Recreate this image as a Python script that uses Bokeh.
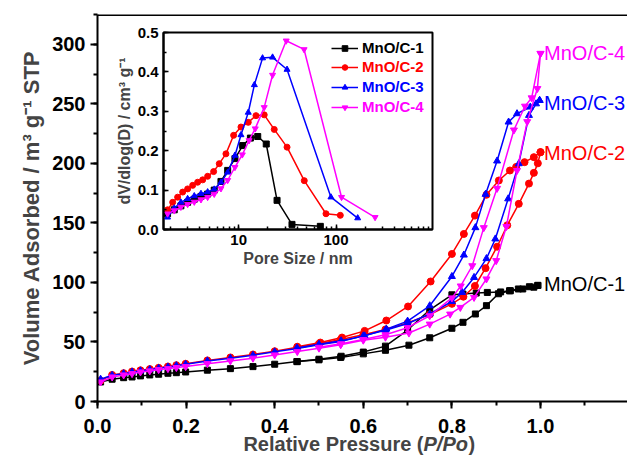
from bokeh.plotting import figure
from bokeh.models import (Range1d, Label, Legend, LegendItem, Span, SingleIntervalTicker,
                          LogTicker, NumeralTickFormatter)
from bokeh.embed import file_html
from bokeh.resources import INLINE

# ---------------- main isotherm data ----------------
names = ["MnO/C-1", "MnO/C-2", "MnO/C-3", "MnO/C-4"]
colors = ["#000000", "#FF0000", "#0000FF", "#FF00FF"]
markers = ["square", "circle", "triangle", "inverted_triangle"]

p1_ads = [0.007, 0.033, 0.059, 0.078, 0.097, 0.118, 0.138, 0.159, 0.178, 0.199, 0.248, 0.300, 0.351, 0.400, 0.451, 0.500, 0.549, 0.600, 0.650, 0.703, 0.750, 0.800, 0.825, 0.853, 0.878, 0.905, 0.932, 0.960, 0.985, 0.994]
v1_ads = [16.4, 18.7, 20.0, 20.6, 21.5, 22.3, 22.9, 23.7, 24.2, 24.8, 26.3, 27.6, 29.3, 31.3, 33.5, 35.0, 37.0, 40.0, 43.0, 47.3, 53.5, 61.5, 66.5, 73.5, 80.5, 90.5, 93.0, 94.5, 96.0, 97.5]
p1_des = [0.994, 0.975, 0.950, 0.930, 0.910, 0.880, 0.855, 0.825, 0.800, 0.750, 0.700, 0.650, 0.600, 0.550, 0.500, 0.450]
v1_des = [97.5, 96.4, 94.5, 93.0, 92.0, 91.6, 91.1, 90.2, 89.6, 77.0, 60.0, 46.5, 41.5, 38.0, 35.5, 33.5]

p2_ads = [0.007, 0.033, 0.059, 0.078, 0.097, 0.118, 0.138, 0.159, 0.178, 0.199, 0.248, 0.300, 0.351, 0.400, 0.451, 0.500, 0.549, 0.600, 0.650, 0.700, 0.750, 0.800, 0.826, 0.852, 0.876, 0.902, 0.925, 0.951, 0.974, 0.985, 0.994, 1.000]
v2_ads = [17.5, 22.3, 23.8, 25.2, 26.2, 27.2, 28.3, 29.4, 30.5, 31.7, 34.5, 37.0, 39.5, 42.2, 45.5, 48.5, 52.0, 56.0, 60.5, 66.0, 73.0, 82.0, 88.0, 97.0, 112.0, 130.0, 148.0, 166.0, 183.0, 192.0, 200.0, 209.4]
p2_des = [1.000, 0.985, 0.964, 0.945, 0.931, 0.906, 0.878, 0.852, 0.827, 0.800, 0.752, 0.701, 0.652, 0.603, 0.552, 0.503, 0.451]
v2_des = [209.4, 205.2, 201.0, 197.0, 194.0, 185.6, 173.6, 156.1, 140.7, 123.9, 100.8, 79.8, 68.0, 59.3, 53.7, 49.5, 46.0]

p3_ads = [0.007, 0.033, 0.059, 0.078, 0.097, 0.118, 0.138, 0.159, 0.178, 0.199, 0.248, 0.300, 0.351, 0.400, 0.451, 0.500, 0.549, 0.600, 0.650, 0.700, 0.750, 0.800, 0.823, 0.850, 0.878, 0.898, 0.927, 0.951, 0.974, 0.990, 0.998]
v3_ads = [18.7, 22.0, 23.4, 24.8, 25.7, 26.8, 27.9, 29.0, 30.1, 31.3, 34.1, 36.4, 38.9, 41.7, 44.5, 47.6, 50.3, 55.1, 59.9, 65.5, 73.5, 84.0, 91.6, 104.2, 120.0, 136.5, 170.2, 199.7, 240.3, 250.0, 252.9]
p3_des = [0.998, 0.977, 0.947, 0.928, 0.902, 0.876, 0.853, 0.827, 0.800, 0.750, 0.700, 0.652, 0.603, 0.550, 0.500, 0.450]
v3_des = [252.9, 247.3, 241.7, 234.7, 202.0, 174.0, 146.0, 123.0, 105.0, 80.4, 67.5, 60.8, 55.1, 51.0, 48.0, 45.0]

p4_ads = [0.007, 0.033, 0.059, 0.078, 0.097, 0.118, 0.138, 0.159, 0.178, 0.199, 0.248, 0.300, 0.351, 0.400, 0.451, 0.500, 0.549, 0.600, 0.650, 0.703, 0.750, 0.796, 0.819, 0.850, 0.878, 0.900, 0.923, 0.947, 0.970, 0.993, 1.000]
v4_ads = [16.4, 20.6, 22.3, 23.4, 24.8, 25.7, 26.8, 27.6, 28.5, 29.3, 31.8, 34.1, 36.4, 39.1, 41.9, 44.8, 47.6, 51.5, 54.0, 57.5, 65.0, 73.4, 79.0, 87.4, 102.9, 118.3, 146.9, 194.0, 235.0, 262.8, 292.3]
p4_des = [1.000, 0.980, 0.965, 0.940, 0.902, 0.872, 0.846, 0.820, 0.800, 0.750, 0.700, 0.650, 0.600, 0.550, 0.500]
v4_des = [292.3, 255.0, 248.0, 228.0, 179.0, 146.0, 114.0, 97.0, 87.0, 72.0, 62.0, 56.0, 52.0, 48.5, 45.5]

# ---------------- inset pore-size data ----------------
d1 = [1.86, 2.18, 2.55, 2.99, 3.50, 4.10, 4.80, 5.61, 6.58, 7.71, 9.16, 10.99, 13.2, 15.7, 19.2, 24.8, 35.3, 69.0]
f1 = [0.040, 0.050, 0.060, 0.069, 0.077, 0.084, 0.090, 0.100, 0.122, 0.150, 0.180, 0.213, 0.232, 0.236, 0.217, 0.074, 0.013, 0.008]
d2 = [1.86, 2.10, 2.36, 2.66, 2.99, 3.37, 3.79, 4.27, 4.80, 5.53, 6.32, 7.40, 8.88, 10.56, 12.55, 15.06, 18.3, 23.2, 31.4, 47.2, 78.9, 110.7]
f2 = [0.050, 0.069, 0.082, 0.095, 0.103, 0.112, 0.120, 0.126, 0.135, 0.147, 0.167, 0.192, 0.239, 0.260, 0.272, 0.289, 0.291, 0.254, 0.209, 0.124, 0.040, 0.036]
d3 = [1.86, 2.18, 2.55, 2.99, 3.50, 4.10, 4.80, 5.61, 6.58, 7.71, 9.16, 10.56, 12.55, 14.5, 17.6, 22.3, 31.4, 88.7, 167.0]
f3 = [0.031, 0.054, 0.069, 0.078, 0.085, 0.091, 0.095, 0.102, 0.120, 0.145, 0.188, 0.240, 0.297, 0.367, 0.435, 0.437, 0.406, 0.082, 0.029]
d4 = [1.86, 2.18, 2.55, 2.99, 3.50, 4.10, 4.80, 5.61, 6.58, 7.71, 9.16, 10.9, 12.8, 14.8, 18.3, 22.3, 30.8, 47.0, 114.0, 252.0]
f4 = [0.040, 0.048, 0.057, 0.064, 0.070, 0.076, 0.082, 0.090, 0.104, 0.125, 0.158, 0.190, 0.226, 0.256, 0.310, 0.392, 0.479, 0.457, 0.082, 0.031]

ads = [(p1_ads, v1_ads), (p2_ads, v2_ads), (p3_ads, v3_ads), (p4_ads, v4_ads)]
des = [(p1_des, v1_des), (p2_des, v2_des), (p3_des, v3_des), (p4_des, v4_des)]
psd = [(d1, f1), (d2, f2), (d3, f3), (d4, f4)]
label_y = [98.9, 208.3, 250.4, 292.5]

FONT = "Liberation Sans"

# ---------------- main figure ----------------
p = figure(width=627, height=458, x_range=Range1d(0, 1.1964), y_range=Range1d(0, 325),
           output_backend="svg", toolbar_location=None,
           min_border_left=97, min_border_right=0, min_border_top=14, min_border_bottom=57)
p.outline_line_color = None
p.grid.visible = False
p.background_fill_color = "white"

p.xaxis.ticker = SingleIntervalTicker(interval=0.2, num_minor_ticks=2)
p.yaxis.ticker = SingleIntervalTicker(interval=50, num_minor_ticks=2)
p.xaxis.formatter = NumeralTickFormatter(format="0.0")
for ax in (p.xaxis[0], p.yaxis[0]):
    ax.axis_line_width = 2
    ax.major_tick_line_width = 2
    ax.minor_tick_line_width = 2
    ax.major_tick_in = 0
    ax.minor_tick_in = 0
    ax.major_tick_out = 7
    ax.minor_tick_out = 4
    ax.major_label_text_font = FONT
    ax.major_label_text_font_style = "bold"
    ax.major_label_text_font_size = "20px"
    ax.major_label_text_color = "black"
    ax.major_label_standoff = 5
p.xaxis.major_label_standoff = 10
p.yaxis.axis_label = "Volume Adsorbed / m³ g⁻¹ STP"
p.yaxis.axis_label_text_font = FONT
p.yaxis.axis_label_text_font_style = "bold"
p.yaxis.axis_label_text_font_size = "22px"
p.yaxis.axis_label_standoff = 5

p.add_layout(Span(location=324.6, dimension="width", line_color="black", line_width=2))

for i in range(4):
    for (xs, ys) in (ads[i], des[i]):
        p.line(xs, ys, line_color=colors[i], line_width=1.5)
        p.scatter(xs, ys, marker=markers[i], size=7 if i != 0 else 6,
                  fill_color=colors[i], line_color=colors[i])
    p.add_layout(Label(x=1.008, y=label_y[i], text=names[i], text_color=colors[i],
                       text_font=FONT, text_font_size="20px", text_baseline="middle"))

# ---------------- x-axis title (small overlay figure, italic P/Po) ----------------
t = figure(width=320, height=30, x_range=Range1d(0, 320), y_range=Range1d(0, 30),
           output_backend="svg", toolbar_location=None,
           min_border=0, min_border_left=0, min_border_right=0, min_border_top=0, min_border_bottom=0)
t.axis.visible = False
t.grid.visible = False
t.outline_line_color = None
t.background_fill_alpha = 0
t.border_fill_alpha = 0
t.add_layout(Label(x=223, y=15, text="Relative Pressure (", text_align="right",
                   text_baseline="middle", text_font=FONT, text_font_style="bold",
                   text_font_size="20px"))
t.add_layout(Label(x=223, y=15, text="P/Po", text_align="left",
                   text_baseline="middle", text_font=FONT, text_font_style="bold italic",
                   text_font_size="20px"))
t.add_layout(Label(x=268, y=15, text=")", text_align="left",
                   text_baseline="middle", text_font=FONT, text_font_style="bold",
                   text_font_size="20px"))
t.styles = {"position": "absolute", "left": "200px", "top": "428px"}

# ---------------- inset figure ----------------
q = figure(width=419, height=252, x_axis_type="log", x_range=Range1d(1.69, 980),
           y_range=Range1d(0, 0.5), output_backend="svg", toolbar_location=None,
           min_border_left=90, min_border_right=60, min_border_top=10, min_border_bottom=45)
q.grid.visible = False
q.background_fill_alpha = 0
q.border_fill_alpha = 0
q.outline_line_color = "black"
q.outline_line_width = 2
q.xaxis.ticker = LogTicker(num_minor_ticks=10)
q.xaxis.formatter = NumeralTickFormatter(format="0")
q.yaxis.ticker = SingleIntervalTicker(interval=0.1, num_minor_ticks=2)
q.yaxis.formatter = NumeralTickFormatter(format="0.0")
for ax in (q.xaxis[0], q.yaxis[0]):
    ax.axis_line_width = 2
    ax.major_tick_line_width = 1.5
    ax.minor_tick_line_width = 1.5
    ax.major_tick_in = 5
    ax.major_tick_out = 0
    ax.minor_tick_in = 3
    ax.minor_tick_out = 0
    ax.major_label_text_font = FONT
    ax.major_label_text_font_style = "bold"
    ax.major_label_text_font_size = "15px"
    ax.major_label_text_color = "black"
    ax.major_label_standoff = 5
    ax.axis_label_text_font = FONT
    ax.axis_label_text_font_style = "bold"
    ax.axis_label_text_font_size = "15px"
    ax.axis_label_standoff = 2
q.xaxis.axis_label = "Pore Size / nm"
q.xaxis.axis_label_text_font_size = "16px"
q.yaxis.axis_label = "dV/dlog(D) / cm³ g⁻¹"
q.yaxis.axis_label_text_font_size = "16px"

legend_bottoms = [173, 154, 134, 114]
for i in range(4):
    xs, ys = psd[i]
    r1 = q.line(xs, ys, line_color=colors[i], line_width=1.5)
    r2 = q.scatter(xs, ys, marker=markers[i], size=6, fill_color=colors[i], line_color=colors[i])
    lg = Legend(items=[LegendItem(label=names[i], renderers=[r1, r2])],
                location=(168, legend_bottoms[i]), padding=0, margin=0, spacing=0,
                glyph_width=27, glyph_height=14, label_height=14, label_standoff=4,
                label_text_font=FONT, label_text_font_style="bold",
                label_text_font_size="15px", label_text_color=colors[i],
                border_line_color=None, background_fill_alpha=0)
    q.add_layout(lg, "center")

q.styles = {"position": "absolute", "left": "73px", "top": "22px"}

open("out.html", "w").write(file_html([p, q, t], INLINE))
